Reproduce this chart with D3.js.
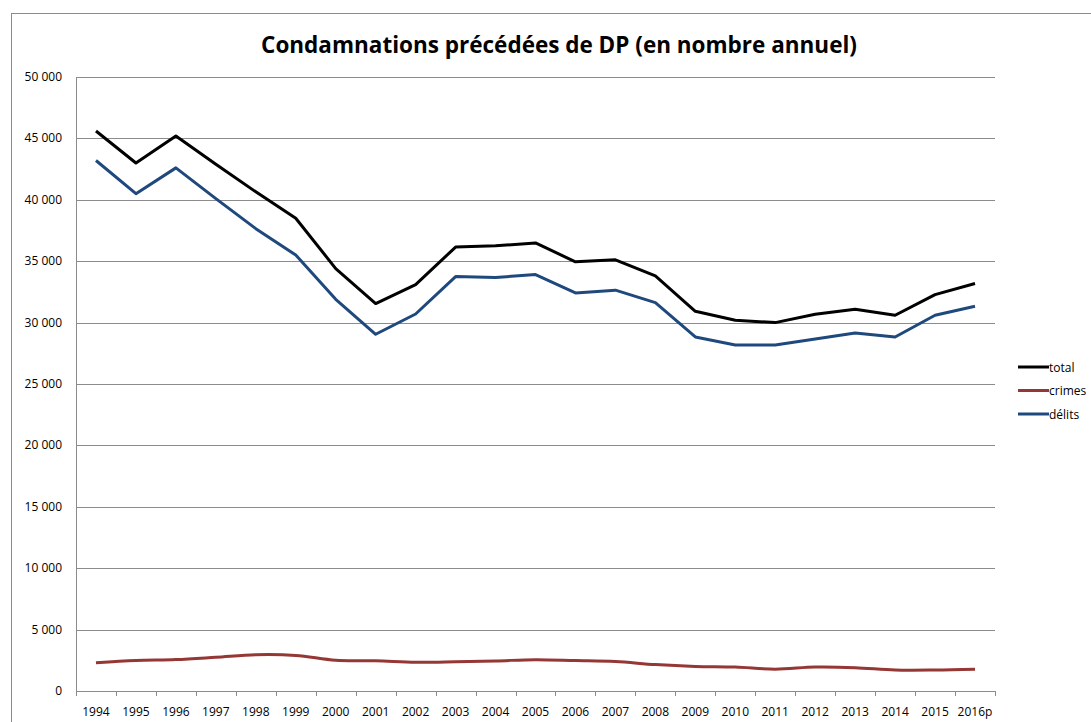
<!DOCTYPE html>
<html>
<head>
<meta charset="utf-8">
<script src="https://cdn.jsdelivr.net/npm/d3@7"></script>
<style>
  body { margin: 0; background: #fff; }
  svg { display: block; font-family: "Open Sans", "Noto Sans", sans-serif; }
</style>
</head>
<body>
<div id="chart"></div>
<script>
const years = ["1994", "1995", "1996", "1997", "1998", "1999", "2000", "2001", "2002", "2003", "2004",
  "2005", "2006", "2007", "2008", "2009", "2010", "2011", "2012", "2013", "2014", "2015", "2016p"];

const total = [45600, 43000, 45200, 42900, 40650, 38500, 34400, 31550, 33100, 36150, 36250,
  36490, 34950, 35110, 33800, 30920, 30190, 30000, 30680, 31090, 30600, 32280, 33180];

const crimes = [2300, 2480, 2560, 2750, 2960, 2900, 2500, 2460, 2340, 2380, 2450,
  2550, 2480, 2400, 2150, 2000, 1950, 1780, 1950, 1900, 1710, 1710, 1780];

const delits = [43200, 40500, 42600, 40100, 37650, 35500, 31900, 29050, 30700, 33750, 33670,
  33910, 32420, 32640, 31630, 28830, 28180, 28180, 28670, 29160, 28830, 30600, 31330];

const yTicks = [0, 5000, 10000, 15000, 20000, 25000, 30000, 35000, 40000, 45000, 50000];

const series = [
  { name: "total", values: total, color: "#000000", smooth: false },
  { name: "crimes", values: crimes, color: "#953735", smooth: true },
  { name: "délits", values: delits, color: "#1f497d", smooth: false }
];

const W = 1091, H = 722;
const plot = { left: 76, right: 995, top: 77, bottom: 691 };

const svg = d3.select("#chart")
  .append("svg")
  .attr("width", W)
  .attr("height", H);

// chart frame (runs past the window on the right and bottom)
svg.append("rect")
  .attr("x", 11.5).attr("y", 13.5)
  .attr("width", 1200).attr("height", 800)
  .attr("fill", "none")
  .attr("stroke", "#8c8c8c");

const x = d3.scaleBand()
  .domain(years)
  .range([plot.left, plot.right]);

const y = d3.scaleLinear()
  .domain([0, 50000])
  .range([plot.bottom, plot.top]);

const fmt = d => d3.format(",")(d).replace(/,/g, " ");

// gridlines
svg.append("g")
  .selectAll("line")
  .data(yTicks.filter(d => d > 0))
  .join("line")
  .attr("x1", plot.left).attr("x2", plot.right)
  .attr("y1", d => Math.round(y(d)) + 0.5)
  .attr("y2", d => Math.round(y(d)) + 0.5)
  .attr("stroke", "#8c8c8c");

// y labels
svg.append("g")
  .selectAll("text")
  .data(yTicks)
  .join("text")
  .attr("x", 62)
  .attr("y", d => y(d) + 4)
  .attr("text-anchor", "end")
  .style("font-size", "12px")
  .text(fmt);

// y axis line
svg.append("line")
  .attr("x1", plot.left + 0.5).attr("x2", plot.left + 0.5)
  .attr("y1", plot.top).attr("y2", plot.bottom)
  .attr("stroke", "#8c8c8c");

// x axis with ticks between categories
const xAxis = svg.append("g");
xAxis.append("line")
  .attr("x1", plot.left).attr("x2", plot.right + 0.5)
  .attr("y1", plot.bottom + 0.5).attr("y2", plot.bottom + 0.5)
  .attr("stroke", "#8c8c8c");

xAxis.selectAll(".tick")
  .data(years.map(d => x(d)).concat([plot.right]))
  .join("line")
  .attr("class", "tick")
  .attr("x1", d => Math.round(d) + 0.5).attr("x2", d => Math.round(d) + 0.5)
  .attr("y1", plot.bottom).attr("y2", plot.bottom + 5)
  .attr("stroke", "#8c8c8c");

xAxis.selectAll("text")
  .data(years)
  .join("text")
  .attr("x", d => x(d) + x.bandwidth() / 2)
  .attr("y", 716)
  .attr("text-anchor", "middle")
  .style("font-size", "12px")
  .text(d => d);

// lines
const cx = (d, i) => x(years[i]) + x.bandwidth() / 2;
series.forEach(s => {
  const line = d3.line()
    .x(cx)
    .y(d => y(d))
    .curve(s.smooth ? d3.curveCatmullRom.alpha(0.5) : d3.curveLinear);
  svg.append("path")
    .datum(s.values)
    .attr("d", line)
    .attr("fill", "none")
    .attr("stroke", s.color)
    .attr("stroke-width", 3)
    .attr("stroke-linejoin", "round");
});

// legend
const legend = svg.append("g")
  .selectAll("g")
  .data(series)
  .join("g")
  .attr("transform", (d, i) => `translate(1018, ${367 + i * 23.5})`);

legend.append("line")
  .attr("x1", 0).attr("x2", 31)
  .attr("stroke", d => d.color)
  .attr("stroke-width", 3);

legend.append("text")
  .attr("x", 31)
  .attr("y", 4.5)
  .style("font-size", "12px")
  .text(d => d.name);

// title
svg.append("text")
  .attr("x", 559)
  .attr("y", 53)
  .attr("text-anchor", "middle")
  .style("font-size", "22.5px")
  .style("font-weight", "bold")
  .text("Condamnations précédées de DP (en nombre annuel)");
</script>
</body>
</html>
